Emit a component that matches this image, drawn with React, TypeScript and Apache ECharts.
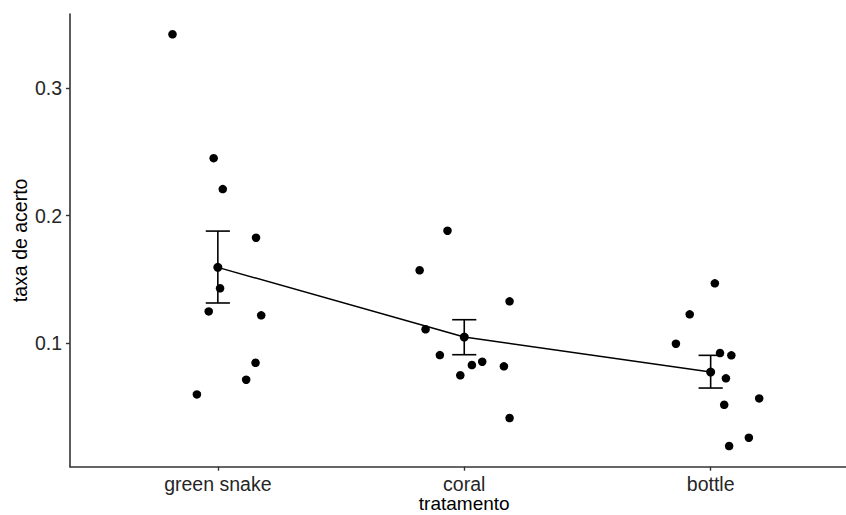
import React, { useEffect, useRef } from "react";
import * as echarts from "echarts";

const categories = ["green snake", "coral", "bottle"];

// jitter offsets (x, in category units) and values
const greenSnakeJitter = [-0.184, -0.017, 0.02, 0.155, 0.009, -0.037, 0.176, 0.153, 0.115, -0.085];
const greenSnakeValues = [0.342, 0.245, 0.2208, 0.1827, 0.1431, 0.125, 0.1219, 0.0848, 0.0715, 0.06];

const coralJitter = [-0.068, -0.181, 0.184, -0.157, -0.099, 0.073, 0.031, 0.161, -0.016, 0.184];
const coralValues = [0.1882, 0.1572, 0.1329, 0.111, 0.0908, 0.0856, 0.083, 0.082, 0.075, 0.0415];

const bottleJitter = [0.017, -0.085, -0.141, 0.038, 0.084, 0.062, 0.197, 0.055, 0.155, 0.075];
const bottleValues = [0.147, 0.1227, 0.0997, 0.0924, 0.0906, 0.0726, 0.0569, 0.0519, 0.0261, 0.0196];

const means = [0.1595, 0.1049, 0.0775];
const errLow = [0.1316, 0.0911, 0.065];
const errHigh = [0.1879, 0.1185, 0.0906];

const yTicks = [0.1, 0.2, 0.3];

const FONT = "'Liberation Sans', Arial, sans-serif";

export default function App() {
  const ref = useRef<HTMLDivElement>(null);

  useEffect(() => {
    if (!ref.current) return;
    const chart = echarts.init(ref.current, undefined, { renderer: "svg" });

    const groups = [
      { jitter: greenSnakeJitter, values: greenSnakeValues },
      { jitter: coralJitter, values: coralValues },
      { jitter: bottleJitter, values: bottleValues },
    ];
    const points: number[][] = [];
    groups.forEach((g, i) => {
      g.values.forEach((v, j) => points.push([i + 1 + g.jitter[j], v]));
    });

    const meanData = means.map((m, i) => [i + 1, m]);
    const errData = errLow.map((lo, i) => [i + 1, lo, errHigh[i]]);

    chart.setOption({
      animation: false,
      backgroundColor: "#ffffff",
      grid: {
        left: 70,
        top: 14,
        width: 788.5,
        bottom: 48.3,
        containLabel: false,
        outerBoundsMode: "none",
      },
      xAxis: {
        type: "value",
        min: 0.4,
        max: 3.6,
        name: "tratamento",
        nameLocation: "middle",
        nameGap: 26,
        nameMoveOverlap: false,
        nameTextStyle: { fontFamily: FONT, fontSize: 19, color: "#000", lineHeight: 21 },
        splitLine: { show: false },
        axisLine: { show: true, lineStyle: { color: "#333", width: 1.6 } },
        axisTick: {
          show: true,
          length: 4,
          customValues: [1, 2, 3],
          lineStyle: { color: "#333", width: 1.4 },
        },
        axisLabel: {
          customValues: [1, 2, 3],
          margin: 7,
          fontFamily: FONT,
          fontSize: 19.5,
          color: "#262626",
          formatter: (v: number) => categories[Math.round(v) - 1] ?? "",
        },
      },
      yAxis: {
        type: "value",
        min: 0.0034,
        max: 0.3579,
        name: "taxa de acerto",
        nameLocation: "middle",
        nameGap: 40,
        nameMoveOverlap: false,
        nameTextStyle: { fontFamily: FONT, fontSize: 19.5, color: "#000" },
        splitLine: { show: false },
        axisLine: { show: true, lineStyle: { color: "#333", width: 1.6 } },
        axisTick: {
          show: true,
          length: 4,
          customValues: yTicks,
          lineStyle: { color: "#333", width: 1.4 },
        },
        axisLabel: {
          customValues: yTicks,
          margin: 8,
          fontFamily: FONT,
          fontSize: 19.5,
          color: "#262626",
          formatter: (v: number) => v.toFixed(1),
        },
      },
      series: [
        {
          type: "scatter",
          data: points,
          symbol: "circle",
          symbolSize: 8.5,
          itemStyle: { color: "#000", opacity: 1 },
          z: 3,
        },
        {
          type: "line",
          data: meanData,
          symbol: "circle",
          symbolSize: 9,
          showSymbol: true,
          lineStyle: { color: "#000", width: 1.5 },
          itemStyle: { color: "#000", opacity: 1 },
          z: 4,
        },
        {
          type: "custom",
          data: errData,
          z: 5,
          renderItem: (params: any, api: any) => {
            const x = api.value(0);
            const lo = api.value(1);
            const hi = api.value(2);
            const half = 0.049;
            const top = api.coord([x, hi]);
            const bot = api.coord([x, lo]);
            const tl = api.coord([x - half, hi]);
            const tr = api.coord([x + half, hi]);
            const bl = api.coord([x - half, lo]);
            const br = api.coord([x + half, lo]);
            const style = { stroke: "#000", lineWidth: 1.6 };
            return {
              type: "group",
              children: [
                { type: "line", shape: { x1: top[0], y1: top[1], x2: bot[0], y2: bot[1] }, style },
                { type: "line", shape: { x1: tl[0], y1: tl[1], x2: tr[0], y2: tr[1] }, style },
                { type: "line", shape: { x1: bl[0], y1: bl[1], x2: br[0], y2: br[1] }, style },
              ],
            };
          },
        },
      ],
    });

    return () => chart.dispose();
  }, []);

  return (
    <div
      ref={ref}
      style={{ position: "fixed", left: 0, top: 0, width: 846, height: 515, background: "#fff" }}
    />
  );
}
